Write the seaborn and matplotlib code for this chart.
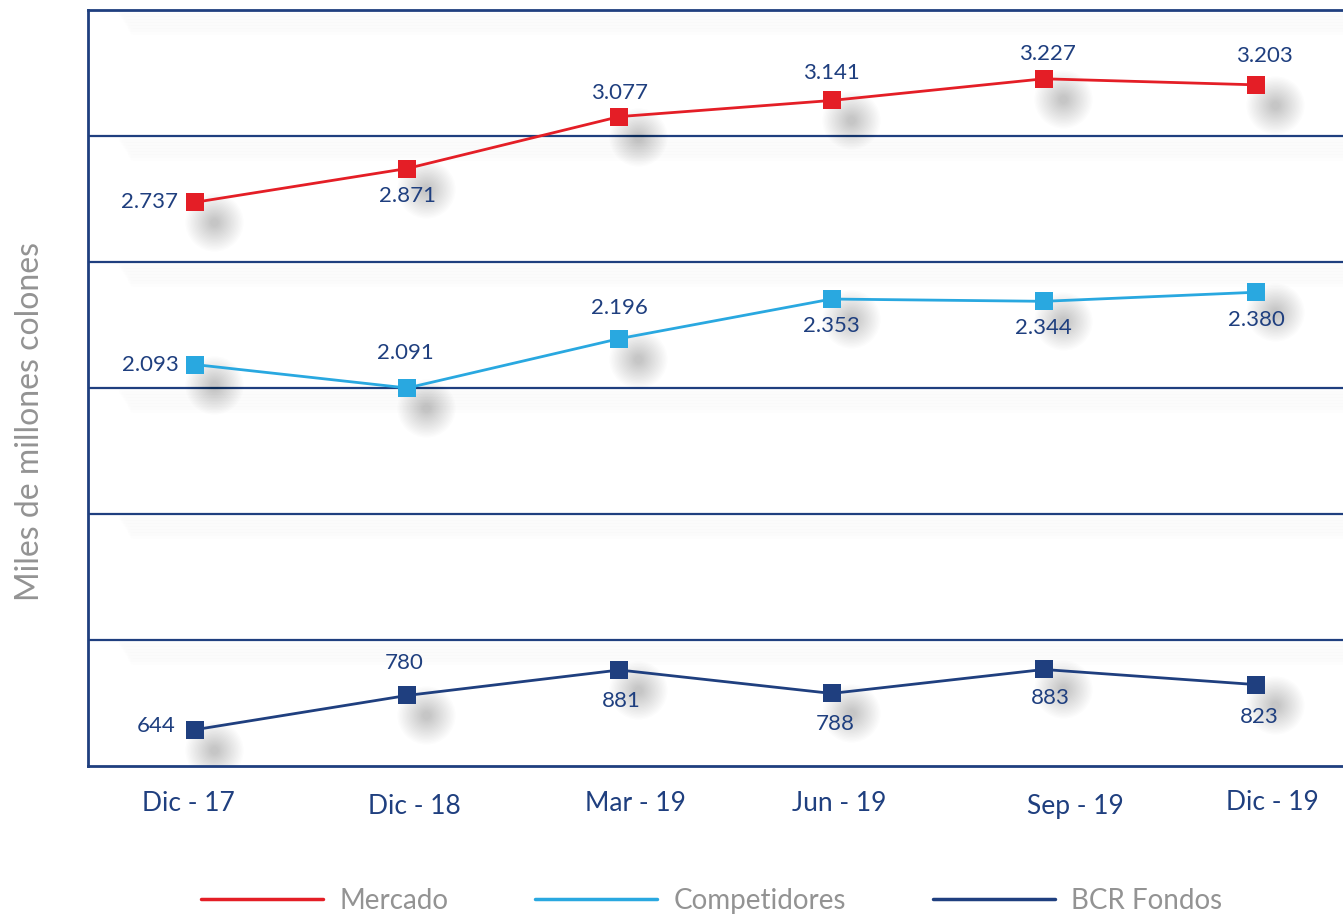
import pandas as pd
import matplotlib.pyplot as plt
import matplotlib.transforms as mtransforms
from matplotlib.lines import Line2D
import seaborn as sns

# data (miles de millones de colones)
periodos = ['Dic - 17', 'Dic - 18', 'Mar - 19', 'Jun - 19', 'Sep - 19', 'Dic - 19']
mercado = [2737, 2871, 3077, 3141, 3227, 3203]
competidores = [2093, 2000, 2196, 2353, 2344, 2380]   # Dic-18 point sits on the 2000 line in the source
bcr_fondos = [644, 780, 881, 788, 883, 823]
series = ['Mercado', 'Competidores', 'BCR Fondos']

# printed labels (source labels Dic-18 competidores as 2.091)
etq_mercado = ['2.737', '2.871', '3.077', '3.141', '3.227', '3.203']
etq_competidores = ['2.093', '2.091', '2.196', '2.353', '2.344', '2.380']
etq_bcr = ['644', '780', '881', '788', '883', '823']

colores = {'Mercado': '#E41E26', 'Competidores': '#29A8E0', 'BCR Fondos': '#1F3F7F'}
navy = '#1F3F7F'
gris = '#939393'

# label offsets per point (dx, dy) in pixels
offsets = {
    'Mercado': [(-45, 0), (0, -27), (0, 24), (0, 27), (4, 25), (8, 29)],
    'Competidores': [(-45, 0), (-2, 35), (0, 31), (0, -27), (0, -27), (0, -28)],
    'BCR Fondos': [(-39, 4), (-3, 32), (2, -31), (4, -31), (7, -29), (3, -32)],
}
# small shifts of the x tick labels seen in the source (pixels, +dy = down)
tick_dx = [-7, 7, 16, 8, 32, 16]
tick_dy = [0, 3, 0, 0, 3, -1]

df = pd.DataFrame({
    'pos': list(range(len(periodos))) * 3,
    'valor': mercado + competidores + bcr_fondos,
    'serie': [s for s in series for _ in periodos],
})

sns.set_style('white')
plt.rcParams['font.family'] = ['Lato', 'DejaVu Sans']

fig = plt.figure(figsize=(13.43, 9.19), dpi=100)
ax = fig.add_axes([88 / 1343, 1 - 766 / 919, 1 - 88 / 1343, (766 - 10) / 919])

# faint haze under the grid lines
for k in range(3, 22, 3):
    trg = mtransforms.offset_copy(ax.transData, fig=fig, x=k * 0.6, y=-k, units='dots')
    for yv in [1000, 1500, 2000, 2500, 3000, 3500]:
        ax.plot([-0.35, 5.5], [yv, yv], color='black', lw=5, alpha=0.006,
                transform=trg, zorder=0.5, solid_capstyle='round')

# soft blurry shadows under the markers
tr = mtransforms.offset_copy(ax.transData, fig=fig, x=19, y=-20, units='dots')
for s in series:
    sub = df[df.serie == s]
    for size in range(42, 4, -2):
        ax.plot(sub.pos, sub.valor, 'o', ms=size, color='black', alpha=0.011,
                mec='none', transform=tr, zorder=1)

sns.lineplot(data=df, x='pos', y='valor', hue='serie', palette=colores,
             style='serie', markers={s: 's' for s in series}, dashes=False,
             markersize=13, markeredgewidth=0, linewidth=2, ax=ax, legend=False,
             zorder=3)

for s, vals, etq in zip(series, [mercado, competidores, bcr_fondos],
                        [etq_mercado, etq_competidores, etq_bcr]):
    for i, v in enumerate(vals):
        dx, dy = offsets[s][i]
        ax.annotate(etq[i], (i, v), xytext=(dx, dy), textcoords='offset pixels',
                    ha='center', va='center', fontsize=16, color=navy, zorder=4)

ax.set_xlim(-0.504, 5.41)
ax.set_ylim(500, 3500)
ax.set_yticks([1000, 1500, 2000, 2500, 3000])
ax.set_yticklabels([])
ax.tick_params(axis='y', length=0)
ax.yaxis.grid(True, color=navy, linewidth=1.6)
ax.set_axisbelow(True)

ax.set_xticks(range(len(periodos)))
ax.set_xticklabels(periodos, fontsize=19, color=navy)
ax.tick_params(axis='x', length=0, pad=18)
for lab, dx, dy in zip(ax.get_xticklabels(), tick_dx, tick_dy):
    lab.set_transform(lab.get_transform() +
                      mtransforms.ScaledTranslation(dx / 100, -dy / 100, fig.dpi_scale_trans))
ax.set_xlabel('')
ax.set_ylabel('Miles de millones colones', fontsize=23, color=gris)
ax.yaxis.set_label_coords(-0.034, 0.456)

for lado in ['top', 'left', 'bottom']:
    ax.spines[lado].set_color(navy)
    ax.spines[lado].set_linewidth(2)
ax.spines['right'].set_visible(False)

handles = [Line2D([0], [0], color=colores[s], lw=2.5) for s in series]
fig.legend(handles, series, loc='center', bbox_to_anchor=(0.53, 1 - 901 / 919),
           ncol=3, frameon=False, handlelength=4.4, handletextpad=0.6,
           columnspacing=3.1, labelcolor=gris, prop={'size': 20})

fig.savefig('out.png', dpi=100)
